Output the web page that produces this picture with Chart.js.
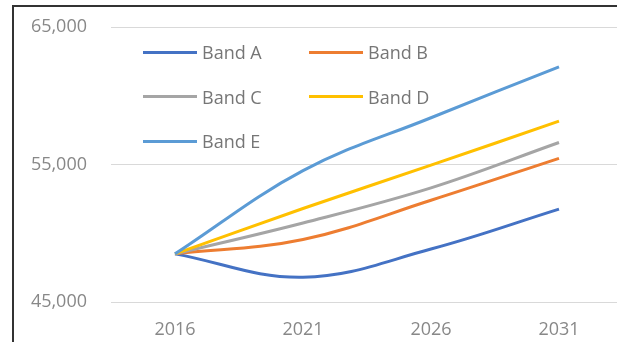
<!DOCTYPE html>
<html>
<head>
<meta charset="utf-8">
<script src="https://cdn.jsdelivr.net/npm/chart.js@4/dist/chart.umd.min.js"></script>
<style>
html, body { margin: 0; padding: 0; background: #fff; overflow: hidden; width: 617px; height: 342px; }
#marco { position: absolute; left: 12px; top: 5px; width: 700px; height: 400px; border-left: 2px solid #333; border-top: 2px solid #333; }
#contenedor { position: absolute; left: 0; top: 0; width: 626px; height: 342px; }
#leyenda { position: absolute; left: 143px; top: 30px; display: grid; grid-template-columns: 166px 166px; grid-auto-rows: 44.5px; align-items: center; font-family: "Open Sans", sans-serif; font-size: 18px; color: #767676; }
#leyenda .item { display: flex; align-items: center; }
#leyenda .linea { display: inline-block; width: 54px; height: 3px; margin-right: 5px; }
</style>
</head>
<body>
<div id="marco"></div>
<div id="contenedor"><canvas id="canvas"></canvas></div>
<div id="leyenda"></div>
<script>
//Datos
var ANIOS = ['2016', '2021', '2026', '2031'];
var TICKS_Y = [45000, 55000, 65000];
var NOMBRES = ['Band A', 'Band B', 'Band C', 'Band D', 'Band E'];
var COLORES = ['#4472C4', '#ED7D31', '#A5A5A5', '#FFC000', '#5B9BD5'];
var bandA = [48500, 46800, 48850, 51750];
var bandB = [48500, 49550, 52400, 55450];
var bandC = [48500, 50750, 53300, 56600];
var bandD = [48500, 51800, 54950, 58150];
var bandE = [48500, 54550, 58400, 62100];
var SERIES = [bandA, bandB, bandC, bandD, bandE];

//Armamos los datasets a partir de los arrays
var datasets = [];
for (var i = 0; i < SERIES.length; i++) {
	datasets.push({
		label: NOMBRES[i],
		data: SERIES[i],
		borderColor: COLORES[i],
		backgroundColor: COLORES[i],
		borderWidth: 3,
		pointRadius: 0,
		tension: 0.38,
		fill: false,
		order: SERIES.length - i
	});
}

var fuente = { family: '"Open Sans", sans-serif', size: 18 };

var ctx = document.getElementById('canvas').getContext('2d');
window.miGrafica = new Chart(ctx, {
	type: 'line',
	data: { labels: ANIOS, datasets: datasets },
	options: {
		responsive: true,
		maintainAspectRatio: false,
		animation: false,
		layout: { padding: { top: 27, right: 3, bottom: 0, left: 0 } },
		plugins: {
			legend: { display: false },
			tooltip: { enabled: false }
		},
		scales: {
			x: {
				offset: true,
				grid: { display: false, drawTicks: false },
				border: { display: false },
				ticks: { font: fuente, color: '#888', padding: 17, maxRotation: 0 },
				afterFit: function(s) { s.height = 40; }
			},
			y: {
				min: 45000,
				max: 65000,
				grid: { color: '#d9d9d9', lineWidth: 1, drawTicks: false },
				border: { display: false },
				ticks: {
					font: fuente,
					color: '#888',
					padding: 24,
					callback: function(v) { return v.toLocaleString('en-US'); }
				},
				afterBuildTicks: function(s) {
					s.ticks = TICKS_Y.map(function(v) { return { value: v }; });
				},
				//el padding de las etiquetas no debe empujar el área del gráfico
				afterFit: function(s) {
					s.width = 111;
					s.paddingTop = 11;
					s.paddingBottom = 11;
				}
			}
		}
	}
});

//Leyenda en HTML, dos columnas como en la original
var leyenda = document.getElementById('leyenda');
for (var j = 0; j < NOMBRES.length; j++) {
	var item = document.createElement('div');
	item.className = 'item';
	var linea = document.createElement('span');
	linea.className = 'linea';
	linea.style.background = COLORES[j];
	item.appendChild(linea);
	item.appendChild(document.createTextNode(NOMBRES[j]));
	leyenda.appendChild(item);
}
</script>
</body>
</html>
